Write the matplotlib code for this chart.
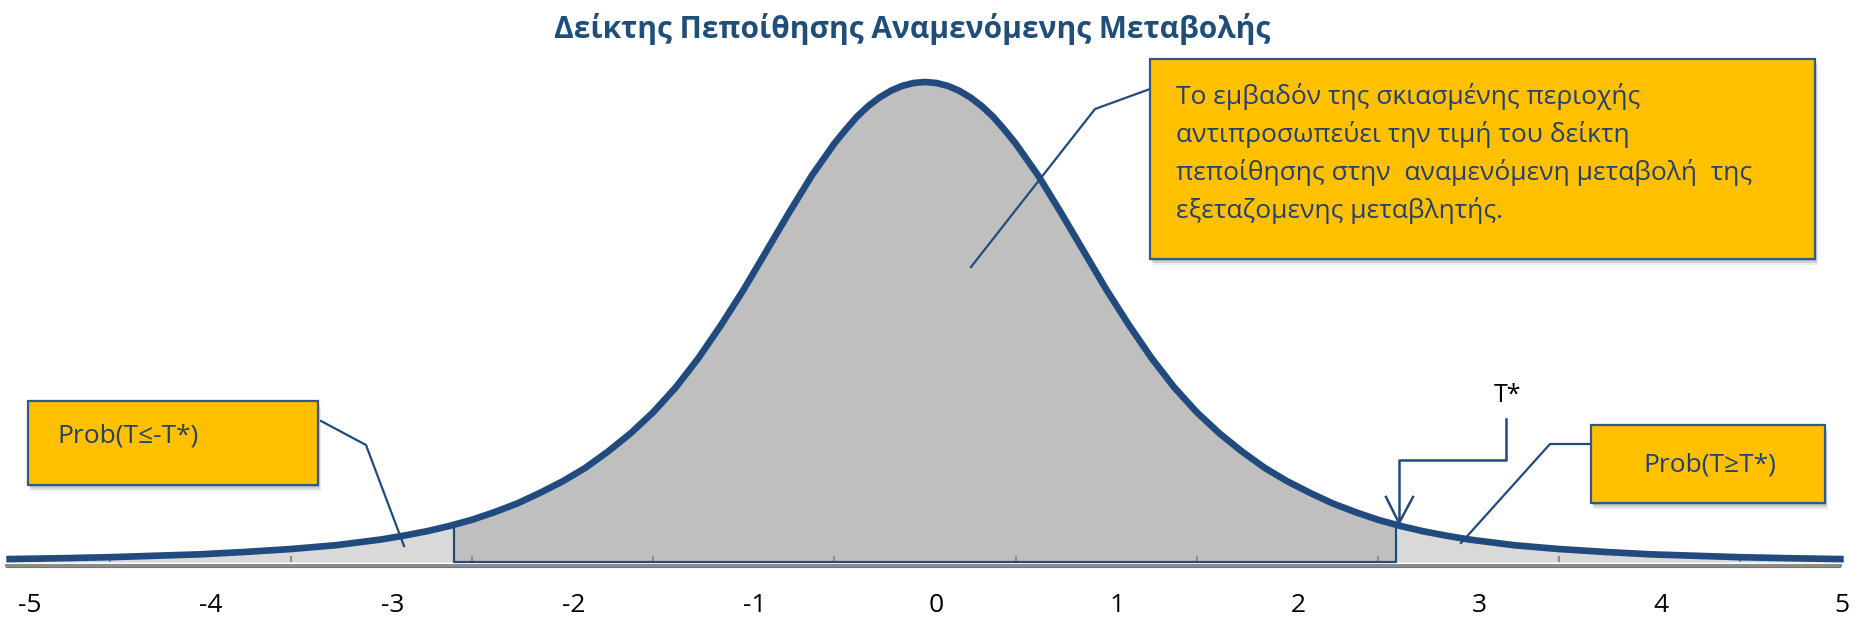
#Δείκτης πεποίθησης - κατανομή t με σκιασμένες περιοχές

import numpy as np
import matplotlib.pyplot as plt
from matplotlib.patches import Rectangle

plt.rcParams['font.family'] = ['Open Sans', 'DejaVu Sans']

# Καμπύλη (ύψος ως προς την κορυφή = 1), διαβασμένη από την εικόνα
t_vals = [-5.07, -4.75, -4.5, -4.25, -4.0, -3.75, -3.5, -3.25, -3.0, -2.875, -2.75, -2.625,
          -2.5, -2.375, -2.25, -2.125, -2.0, -1.875, -1.75, -1.625, -1.5, -1.375, -1.25,
          -1.125, -1.0, -0.875, -0.75, -0.625, -0.5, -0.4375, -0.375, -0.3125, -0.25,
          -0.1875, -0.125, -0.0625, 0.0,
          0.0625, 0.125, 0.1875, 0.25, 0.3125, 0.375, 0.4375, 0.5, 0.625, 0.75, 0.875,
          1.0, 1.125, 1.25, 1.375, 1.5, 1.625, 1.75, 1.875, 2.0, 2.125, 2.25, 2.375, 2.5,
          2.625, 2.75, 2.875, 3.0, 3.25, 3.5, 3.75, 4.0, 4.25, 4.5, 4.75, 5.07]
dens = [0.006, 0.008, 0.010, 0.013, 0.016, 0.021, 0.027, 0.035, 0.047, 0.055, 0.064, 0.075,
        0.088, 0.104, 0.122, 0.144, 0.168, 0.196, 0.230, 0.268, 0.312, 0.364, 0.425,
        0.494, 0.568, 0.648, 0.728, 0.805, 0.872, 0.901, 0.928, 0.950, 0.968,
        0.982, 0.992, 0.998, 1.000,
        0.998, 0.992, 0.982, 0.968, 0.950, 0.928, 0.901, 0.872, 0.805, 0.728, 0.648,
        0.568, 0.494, 0.425, 0.364, 0.312, 0.268, 0.230, 0.196, 0.168, 0.144, 0.122, 0.104, 0.088,
        0.075, 0.064, 0.055, 0.047, 0.035, 0.027, 0.021, 0.016, 0.013, 0.010, 0.008, 0.006]
t_star = 2.6

tick_labels = ['-5', '-4', '-3', '-2', '-1', '0', '1', '2', '3', '4', '5']
label_pos = [-5, -4, -3, -2, -1, 0, 1, 2, 3, 4, 5]
tick_marks = [-4.5, -3.5, -2.5, -1.5, -0.5, 0.5, 1.5, 2.5, 3.5, 4.5]

title = "Δείκτης Πεποίθησης Αναμενόμενης Μεταβολής"
note_lines = ["Το εμβαδόν της σκιασμένης περιοχής",
              "αντιπροσωπεύει την τιμή του δείκτη",
              "πεποίθησης στην  αναμενόμενη μεταβολή  της",
              "εξεταζομενης μεταβλητής."]
left_label = "Prob(T≤-T*)"
right_label = "Prob(T≥T*)"

blue = '#214B7F'
text_blue = '#24406E'
gold = '#FFC000'

x = np.array(t_vals)
y = np.array(dens)
y_star = np.interp(t_star, x, y)

fig = plt.figure(figsize=(18.62, 6.24), dpi=100)
# κύριοι άξονες: κάτω όριο στη γραμμή βάσης (px 562)
ax = fig.add_axes([0, (624 - 562) / 624, 1, 562 / 624])
ax.set_xlim(-925 / 181.2, (1862 - 925) / 181.2)
ax.set_ylim(0, 562 / 480)

px_y = 1.0 / 480  # ένα pixel σε μονάδες y

# σκίαση
mid = (x > -t_star) & (x < t_star)
xm = np.concatenate([[-t_star], x[mid], [t_star]])
ym = np.concatenate([[y_star], y[mid], [y_star]])
ax.fill_between(xm, 0, ym, color='#BFBFBF', lw=0)
lt = x < -t_star
ax.fill_between(np.concatenate([x[lt], [-t_star]]), 0, np.concatenate([y[lt], [y_star]]),
                color='#D9D9D9', lw=0)
rt = x > t_star
ax.fill_between(np.concatenate([[t_star], x[rt]]), 0, np.concatenate([[y_star], y[rt]]),
                color='#D9D9D9', lw=0)

# περίγραμμα κεντρικής περιοχής
ax.plot([-t_star, -t_star, t_star, t_star], [y_star, 0, 0, y_star], color=blue, lw=1.6,
        clip_on=False, zorder=3)

# άξονας
ax.plot([-5.07, 5.05], [-3 * px_y, -3 * px_y], color='#8C8C8C', lw=2.2, clip_on=False, zorder=2)
ax.plot([-5.07, 5.05], [-5 * px_y, -5 * px_y], color='#5A7AA6', lw=0.8, clip_on=False, zorder=2)
ax.vlines(tick_marks, -2 * px_y, 6 * px_y, color='#8C8C8C', lw=1.5, zorder=2)

# καμπύλη
ax.plot(x, y, color=blue, lw=4.8, solid_capstyle='butt', solid_joinstyle='round',
        clip_on=False, zorder=4)

ax.set_xticks([p + 0.06 for p in label_pos])
ax.set_xticklabels(tick_labels, fontsize=19)
ax.tick_params(axis='x', length=0, pad=22)
ax.set_yticks([])
for s in ax.spines.values():
    s.set_visible(False)
ax.patch.set_alpha(0)

# επικάλυψη σε pixels για τα πλαίσια
ov = fig.add_axes([0, 0, 1, 1])
ov.set_xlim(0, 1862)
ov.set_ylim(624, 0)
ov.axis('off')
ov.patch.set_alpha(0)

ov.text(912, 29, title, ha='center', va='center', fontsize=21.5, fontweight='bold', color='#1F4E79')


def callout(x0, y0, x1, y1):
    for off, a in [(6, 0.12), (4, 0.18), (2, 0.22)]:
        ov.add_patch(Rectangle((x0 + off * 0.5, y0 + off), x1 - x0, y1 - y0,
                               facecolor='#606060', edgecolor='none', alpha=a, zorder=5))
    ov.add_patch(Rectangle((x0, y0), x1 - x0, y1 - y0, facecolor=gold,
                           edgecolor='#2E5A8F', lw=1.6, zorder=6))


callout(1150, 59, 1815, 259)
for i, line in enumerate(note_lines):
    ov.text(1176, 97 + 38 * i, line, ha='left', va='center', fontsize=19, color=text_blue, zorder=7)
ov.plot([1150, 1095, 971], [89, 109, 267], color=blue, lw=1.6, zorder=5)

callout(28, 401, 318, 485)
ov.text(57, 436, left_label, ha='left', va='center', fontsize=19, color=text_blue, zorder=7)
ov.plot([321, 366, 404], [421, 445, 546], color=blue, lw=1.6, zorder=5)

callout(1591, 425, 1825, 503)
ov.text(1710, 465, right_label, ha='center', va='center', fontsize=19, color=text_blue, zorder=7)
ov.plot([1589, 1550, 1461], [444, 444, 543], color=blue, lw=1.6, zorder=5)

# T*
ov.text(1508, 396, "T*", ha='center', va='center', fontsize=18, color='black')
ov.plot([1506, 1506, 1399, 1399], [419, 460, 460, 523], color=blue, lw=1.8, zorder=5)
ov.plot([1386, 1399, 1413], [497, 523, 497], color=blue, lw=1.8, zorder=5)

plt.savefig("out.png", dpi=100)
